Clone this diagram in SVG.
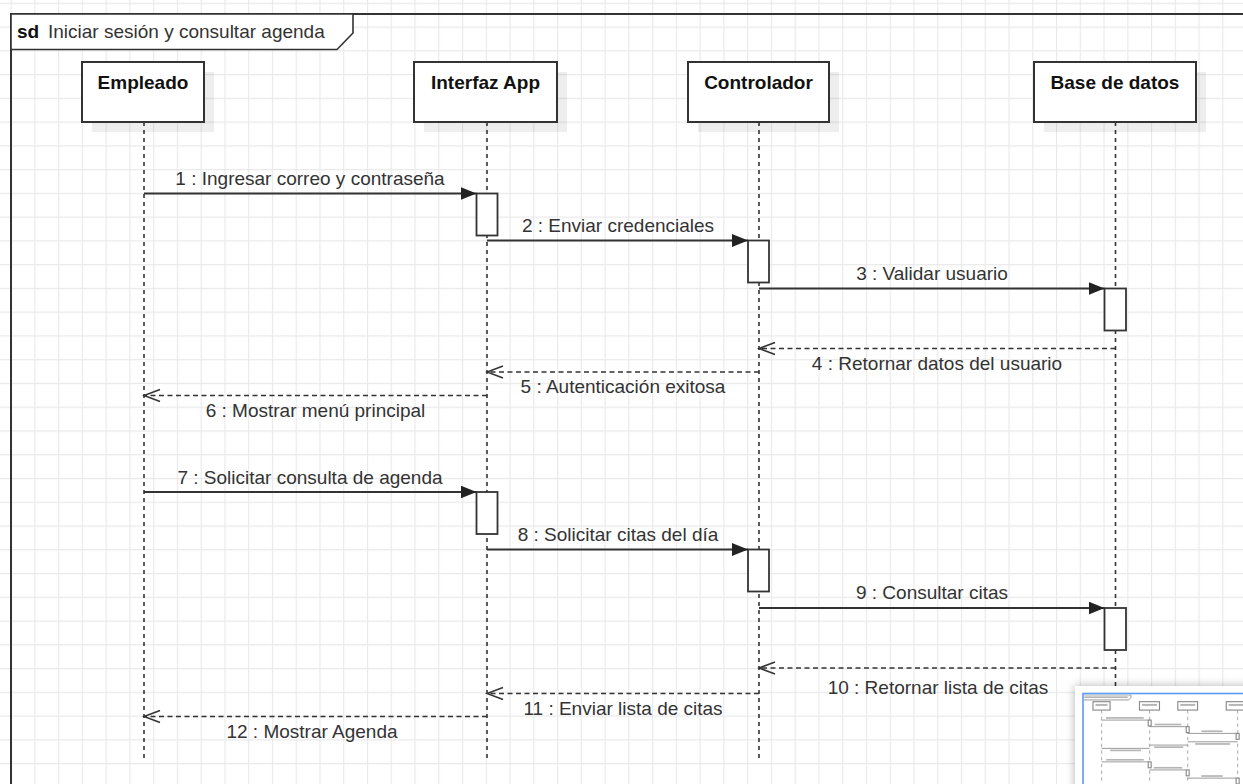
<svg xmlns="http://www.w3.org/2000/svg" width="1243" height="784" viewBox="0 0 1243 784">
<style>
.box{fill:#fff;stroke:#333;stroke-width:2}
.shadow{fill:#000;fill-opacity:0.065}
.title{font-family:"Liberation Sans",Arial,sans-serif;font-size:19px;font-weight:bold;fill:#111;text-anchor:middle}
.lifeline{stroke:#333;stroke-width:1.6;stroke-dasharray:4 4;fill:none}
.act{fill:#fff;stroke:#333;stroke-width:1.8}
.msg{stroke:#333;stroke-width:1.8;fill:none}
.ret{stroke:#333;stroke-width:1.6;fill:none;stroke-dasharray:5 3.5}
.lbl{font-family:"Liberation Sans",Arial,sans-serif;font-size:19px;fill:#333;text-anchor:middle}
.m-box{fill:#fff;stroke:#888;stroke-width:8}
.m-line{stroke:#888;stroke-width:6;fill:none}
.m-life{stroke:#999;stroke-width:6;stroke-dasharray:24 24;fill:none}
.m-txt{fill:#b5b5b5}
</style>
<defs>
<pattern id="grid" x="10.54" y="2.72" width="23.76" height="23.76" patternUnits="userSpaceOnUse">
<path d="M0 0.5H23.76M0.5 0V23.76" stroke="#e9e9e9" stroke-width="1.3" fill="none"/>
</pattern>
<marker id="solid" viewBox="0 0 16 13" refX="16" refY="6.5" markerWidth="16" markerHeight="13" markerUnits="userSpaceOnUse" orient="auto">
<path d="M0,0 L16,6.5 L0,13 Z" fill="#222"/>
</marker>
<marker id="open" viewBox="-2 -2 20 16" refX="16" refY="6" markerWidth="20" markerHeight="16" markerUnits="userSpaceOnUse" orient="auto">
<path d="M0,0 L16,6 L0,12" fill="none" stroke="#333" stroke-width="1.6" stroke-dasharray="none"/>
</marker>
<filter id="panelShadow" x="-20%" y="-20%" width="140%" height="140%">
<feDropShadow dx="0" dy="0" stdDeviation="5" flood-color="#000" flood-opacity="0.3"/>
</filter>
<clipPath id="miniClip"><rect x="1084" y="694.5" width="159" height="90"/></clipPath>
</defs>

<rect x="0" y="0" width="1243" height="784" fill="#fff"/>
<rect x="0" y="0" width="1243" height="784" fill="url(#grid)"/>

<g id="frame">
<path d="M11,784 V14 H1243" fill="none" stroke="#333" stroke-width="2"/>
<polygon points="11,14 353,14 353,33 337,49.5 11,49.5" fill="#fff" stroke="#333" stroke-width="1.6"/>
<text x="17" y="37.5" font-family="Liberation Sans, Arial, sans-serif" font-size="19" font-weight="bold" fill="#111">sd</text>
<text x="48" y="37.5" font-family="Liberation Sans, Arial, sans-serif" font-size="19" fill="#333">Iniciar sesión y consultar agenda</text>
</g>

<g id="node-empleado">
<rect class="shadow" x="92" y="72" width="122" height="60"/>
<rect class="box" x="82" y="62" width="122" height="60"/>
<text class="title" x="143" y="88.5">Empleado</text>
<line class="lifeline" x1="144" y1="122" x2="144" y2="762"/>
</g>

<g id="node-interfaz">
<rect class="shadow" x="424" y="72" width="143" height="60"/>
<rect class="box" x="414" y="62" width="143" height="60"/>
<text class="title" x="485.5" y="88.5">Interfaz App</text>
<line class="lifeline" x1="487" y1="122" x2="487" y2="762"/>
<rect class="act" x="476.5" y="193.5" width="21" height="42"/>
<rect class="act" x="476.5" y="492" width="21" height="42"/>
</g>

<g id="node-controlador">
<rect class="shadow" x="698" y="72" width="141" height="60"/>
<rect class="box" x="688" y="62" width="141" height="60"/>
<text class="title" x="758.5" y="88.5">Controlador</text>
<line class="lifeline" x1="759" y1="122" x2="759" y2="762"/>
<rect class="act" x="748" y="240.5" width="21" height="42"/>
<rect class="act" x="748" y="549.5" width="21" height="42"/>
</g>

<g id="node-basedatos">
<rect class="shadow" x="1044" y="72" width="162" height="60"/>
<rect class="box" x="1034" y="62" width="162" height="60"/>
<text class="title" x="1115" y="88.5">Base de datos</text>
<line class="lifeline" x1="1115.5" y1="122" x2="1115.5" y2="762"/>
<rect class="act" x="1104.5" y="288.5" width="21.5" height="42"/>
<rect class="act" x="1104.5" y="608" width="21.5" height="42"/>
</g>

<g id="connectors">
<line class="msg" x1="144" y1="193.5" x2="476.5" y2="193.5" marker-end="url(#solid)"/>
<text class="lbl" x="310" y="184.5">1 : Ingresar correo y contraseña</text>
<line class="msg" x1="487" y1="240.5" x2="748" y2="240.5" marker-end="url(#solid)"/>
<text class="lbl" x="618" y="231.5">2 : Enviar credenciales</text>
<line class="msg" x1="759" y1="288.5" x2="1104.5" y2="288.5" marker-end="url(#solid)"/>
<text class="lbl" x="932" y="279.5">3 : Validar usuario</text>
<line class="ret" x1="1115.5" y1="348.5" x2="759" y2="348.5" marker-end="url(#open)"/>
<text class="lbl" x="937" y="370">4 : Retornar datos del usuario</text>
<line class="ret" x1="759" y1="372" x2="487" y2="372" marker-end="url(#open)"/>
<text class="lbl" x="623" y="393">5 : Autenticación exitosa</text>
<line class="ret" x1="487" y1="395.5" x2="144" y2="395.5" marker-end="url(#open)"/>
<text class="lbl" x="315.5" y="416.5">6 : Mostrar menú principal</text>
<line class="msg" x1="144" y1="492" x2="476.5" y2="492" marker-end="url(#solid)"/>
<text class="lbl" x="310" y="483.5">7 : Solicitar consulta de agenda</text>
<line class="msg" x1="487" y1="549.5" x2="748" y2="549.5" marker-end="url(#solid)"/>
<text class="lbl" x="618" y="540.5">8 : Solicitar citas del día</text>
<line class="msg" x1="759" y1="608" x2="1104.5" y2="608" marker-end="url(#solid)"/>
<text class="lbl" x="932" y="599">9 : Consultar citas</text>
<line class="ret" x1="1115.5" y1="668" x2="759" y2="668" marker-end="url(#open)"/>
<text class="lbl" x="938" y="694">10 : Retornar lista de citas</text>
<line class="ret" x1="759" y1="693.5" x2="487" y2="693.5" marker-end="url(#open)"/>
<text class="lbl" x="623" y="715">11 : Enviar lista de citas</text>
<line class="ret" x1="487" y1="716.5" x2="144" y2="716.5" marker-end="url(#open)"/>
<text class="lbl" x="312" y="738">12 : Mostrar Agenda</text>
</g>

<g id="minimap">
<rect x="1075" y="686" width="200" height="120" fill="#fff" filter="url(#panelShadow)"/>
<g clip-path="url(#miniClip)">
<g transform="translate(1081.5,693) scale(0.14)">
<polygon points="11,14 353,14 353,33 337,49.5 11,49.5" fill="#fff" stroke="#888" stroke-width="6"/>
<rect class="m-txt" x="20" y="24" width="310" height="12"/>
<line class="m-life" x1="144" y1="122" x2="144" y2="762"/>
<line class="m-life" x1="487" y1="122" x2="487" y2="762"/>
<line class="m-life" x1="759" y1="122" x2="759" y2="762"/>
<line class="m-life" x1="1115.5" y1="122" x2="1115.5" y2="762"/>
<rect class="m-box" x="82" y="62" width="122" height="60"/>
<rect class="m-box" x="414" y="62" width="143" height="60"/>
<rect class="m-box" x="688" y="62" width="141" height="60"/>
<rect class="m-box" x="1034" y="62" width="162" height="60"/>
<rect class="m-txt" x="100" y="78" width="86" height="14"/>
<rect class="m-txt" x="432" y="78" width="108" height="14"/>
<rect class="m-txt" x="706" y="78" width="106" height="14"/>
<rect class="m-txt" x="1052" y="78" width="126" height="14"/>
<rect class="m-box" x="476.5" y="193.5" width="21" height="42"/>
<rect class="m-box" x="748" y="240.5" width="21" height="42"/>
<rect class="m-box" x="1104.5" y="288.5" width="21.5" height="42"/>
<rect class="m-box" x="476.5" y="492" width="21" height="42"/>
<rect class="m-box" x="748" y="549.5" width="21" height="42"/>
<rect class="m-box" x="1104.5" y="608" width="21.5" height="42"/>
<path class="m-line" d="M144,193.5H476 M487,240.5H748 M759,288.5H1104 M1115,348.5H759 M759,372H487 M487,395.5H144 M144,492H476 M487,549.5H748 M759,608H1104"/>
<g class="m-txt">
<rect x="175" y="172" width="270" height="12"/>
<rect x="523" y="219" width="190" height="12"/>
<rect x="857" y="267" width="150" height="12"/>
<rect x="812" y="358" width="250" height="12"/>
<rect x="519" y="381" width="208" height="12"/>
<rect x="205" y="404" width="220" height="12"/>
<rect x="177" y="471" width="268" height="12"/>
<rect x="516" y="528" width="204" height="12"/>
<rect x="856" y="587" width="152" height="12"/>
</g>
</g>
</g>
<rect x="1083" y="693.5" width="200" height="120" fill="none" stroke="#5a9cf2" stroke-width="1.6"/>
</g>
</svg>
